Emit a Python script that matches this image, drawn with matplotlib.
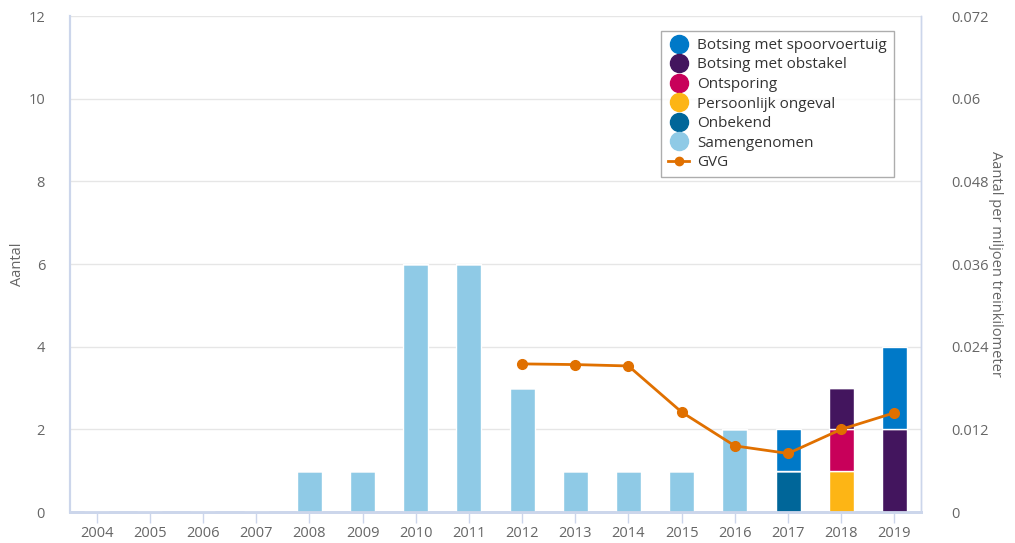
import matplotlib
matplotlib.use("Agg")
import matplotlib.pyplot as plt
from matplotlib.lines import Line2D
import numpy as np

plt.rcParams['font.family'] = ['Open Sans', 'DejaVu Sans']

years = ['2004', '2005', '2006', '2007', '2008', '2009', '2010', '2011',
         '2012', '2013', '2014', '2015', '2016', '2017', '2018', '2019']

# stacked series (bottom to top)
onbekend       = [0, 0, 0, 0, 0, 0, 0, 0, 0, 0, 0, 0, 0, 1, 0, 0]
persoonlijk    = [0, 0, 0, 0, 0, 0, 0, 0, 0, 0, 0, 0, 0, 0, 1, 0]
ontsporing     = [0, 0, 0, 0, 0, 0, 0, 0, 0, 0, 0, 0, 0, 0, 1, 0]
obstakel       = [0, 0, 0, 0, 0, 0, 0, 0, 0, 0, 0, 0, 0, 0, 1, 2]
spoorvoertuig  = [0, 0, 0, 0, 0, 0, 0, 0, 0, 0, 0, 0, 0, 1, 0, 2]
samengenomen   = [0, 0, 0, 0, 1, 1, 6, 6, 3, 1, 1, 1, 2, 0, 0, 0]

gvg = [None, None, None, None, None, None, None, None,
       0.0215, 0.0214, 0.0212, 0.0145, 0.0096, 0.0085, 0.0120, 0.0144]

colors = {
    'Botsing met spoorvoertuig': '#0079C8',
    'Botsing met obstakel': '#43155E',
    'Ontsporing': '#C8005A',
    'Persoonlijk ongeval': '#FDB515',
    'Onbekend': '#006699',
    'Samengenomen': '#8FCAE6',
}
gvg_color = '#E07000'
grid_color = '#E6E6E6'
axis_color = '#CCD6EB'
tick_color = '#666666'

fig = plt.figure(figsize=(10.15, 5.43), dpi=100)
ax = fig.add_axes([70/1015, 31/543, (921-70)/1015, (512-16)/543])
ax2 = ax.twinx()

x = np.arange(len(years))
w = 0.47
bottom = np.zeros(len(years))
stack = [
    ('Samengenomen', samengenomen),
    ('Onbekend', onbekend),
    ('Persoonlijk ongeval', persoonlijk),
    ('Ontsporing', ontsporing),
    ('Botsing met obstakel', obstakel),
    ('Botsing met spoorvoertuig', spoorvoertuig),
]
for name, vals in stack:
    vals = np.array(vals, dtype=float)
    ax.bar(x, vals, w, bottom=bottom, color=colors[name], edgecolor='white',
           linewidth=1.0, zorder=3)
    bottom += vals

ax.set_xlim(-0.5, len(years) - 0.5)
ax.set_ylim(0, 12)
ax.set_yticks(range(0, 13, 2))
ax.set_xticks(x)
ax.set_xticklabels(years)
ax.grid(axis='y', color=grid_color, linewidth=1, zorder=0)
ax.set_axisbelow(True)

for a in (ax, ax2):
    a.spines['top'].set_visible(False)
    a.spines['left'].set_color(axis_color)
    a.spines['right'].set_color(axis_color)
    a.spines['bottom'].set_color(axis_color)
    a.spines['left'].set_linewidth(1.5)
    a.spines['right'].set_linewidth(1.0)
    a.spines['bottom'].set_linewidth(2)

ax.tick_params(axis='x', colors=tick_color, labelsize=10.5, length=8,
               width=1, color=axis_color, pad=2, direction='out')
ax.tick_params(axis='y', colors=tick_color, labelsize=10.5, length=0, pad=18)

gx = [i for i, v in enumerate(gvg) if v is not None]
gy = [v for v in gvg if v is not None]
ax2.plot(gx, gy, color=gvg_color, linewidth=2, marker='o', markersize=7, zorder=5)
ax2.set_ylim(0, 0.072)
ax2.set_yticks([0, 0.012, 0.024, 0.036, 0.048, 0.06, 0.072])
ax2.set_yticklabels(['0', '0.012', '0.024', '0.036', '0.048', '0.06', '0.072'])
ax2.tick_params(axis='y', colors=tick_color, labelsize=10.5, length=0, pad=22)

ax.set_ylabel('Aantal', color=tick_color, fontsize=10.5, labelpad=2)
ax2.set_ylabel('Aantal per miljoen treinkilometer', color=tick_color,
               fontsize=10.5, rotation=270, labelpad=10)

handles = [Line2D([0], [0], marker='o', color='none', markerfacecolor=colors[n],
                  markeredgecolor=colors[n], markersize=13, label=n)
           for n in ['Botsing met spoorvoertuig', 'Botsing met obstakel', 'Ontsporing',
                     'Persoonlijk ongeval', 'Onbekend', 'Samengenomen']]
handles.append(Line2D([0], [0], color=gvg_color, linewidth=2, marker='o',
                      markersize=6, label='GVG'))
leg = ax2.legend(handles=handles, loc='upper left', bbox_to_anchor=(661/1015, 1 - 31/543),
                 bbox_transform=fig.transFigure, frameon=True, fancybox=False,
                 fontsize=11, labelspacing=0.3, handlelength=1.4, handletextpad=0.5,
                 borderpad=0.45, borderaxespad=0, edgecolor='#999999')
leg.get_frame().set_linewidth(1)
for t in leg.get_texts():
    t.set_color('#333333')

fig.savefig('out.png', dpi=100)
